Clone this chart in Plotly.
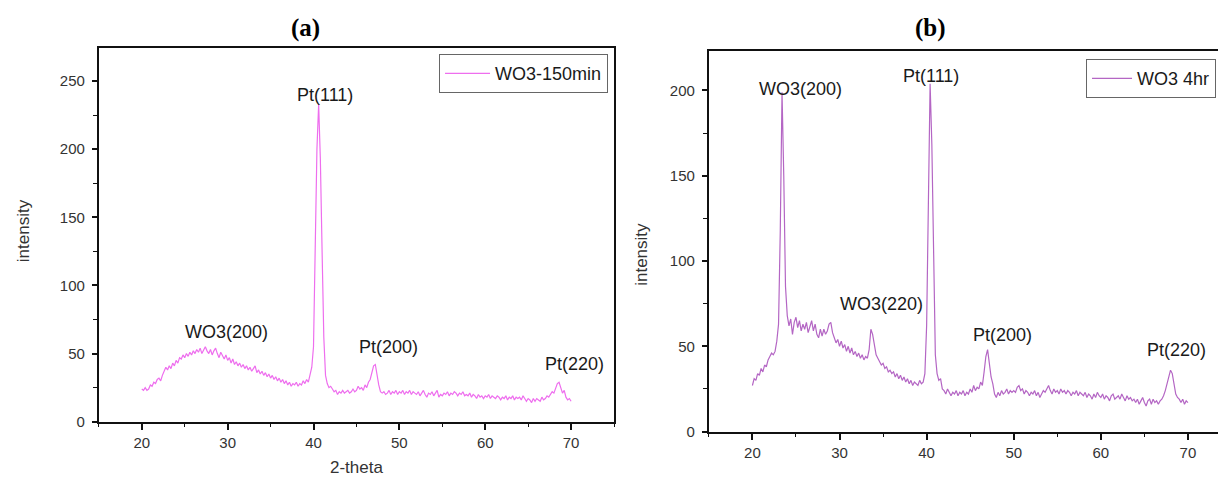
import plotly.graph_objects as go

# ---- data: XRD scans, 2-theta from 20 to 70 in 0.2 deg steps ----
scan_start = 20
scan_step = 0.2

intensity_150min = [
    24, 23, 25, 23, 24, 27, 26, 29, 28, 31,
    32, 30, 34, 37, 40, 38, 41, 39, 43, 41,
    45, 43, 47, 46, 49, 47, 50, 48, 51, 49,
    52, 50, 53, 51, 54, 50, 53, 55, 52, 50,
    53, 49, 52, 54, 50, 47, 51, 48, 46, 49,
    45, 47, 43, 46, 42, 44, 41, 43, 40, 42,
    39, 41, 38, 40, 37, 39, 41, 36, 38, 35,
    37, 34, 36, 33, 35, 32, 34, 31, 33, 30,
    32, 29, 31, 28, 30, 27, 29, 26, 28, 27,
    29, 26, 28, 27, 30, 28, 31, 29, 36, 40,
    55, 115, 200, 233, 192, 125, 62, 34, 28, 25,
    26, 24, 22, 23, 20, 22, 21, 23, 21, 22,
    23, 21, 22, 24, 22, 23, 26, 24, 25, 23,
    27, 25, 29, 31, 36, 41, 42, 33, 27, 22,
    21, 22, 20, 21, 23, 20, 22, 21, 23, 20,
    22, 21, 23, 20, 22, 21, 23, 20, 22, 21,
    20, 22, 19, 21, 23, 20, 18, 21, 20, 22,
    19, 21, 23, 18, 20, 19, 21, 20, 22, 19,
    21, 20, 22, 21, 19, 21, 20, 22, 19, 20,
    19, 21, 18, 20, 19, 17, 20, 18, 19, 17,
    19, 18, 20, 17, 19, 18, 17, 19, 18, 16,
    18, 17, 19, 16, 18, 17, 19, 16, 18, 17,
    18, 16, 19, 17, 15, 17, 16, 14, 17, 15,
    17, 16, 15, 18, 16, 17, 19, 18, 20, 22,
    21, 24, 28, 29, 25, 21, 23, 18, 16, 17,
    15,
]

intensity_4hr = [
    27, 31, 30, 34, 33, 37, 35, 39, 38, 42,
    44, 46, 45, 47, 53, 63, 118, 199, 150, 85,
    68, 62, 66, 57, 64, 67, 61, 65, 59, 63,
    60, 64, 58, 62, 65, 59, 63, 57, 55, 60,
    56, 60, 57, 59, 63, 64, 58, 55, 52, 54,
    50, 53, 49, 51, 47, 50, 46, 49, 45, 47,
    44, 46, 43, 45, 42, 44, 43, 48, 60, 57,
    50, 45, 43, 41, 39, 40, 37, 38, 35, 36,
    34, 35, 32, 34, 31, 33, 30, 32, 29, 31,
    28, 30, 27, 29, 28, 27, 30, 28, 29, 34,
    62, 140, 204, 168, 95, 45, 34, 30, 31, 25,
    24, 22, 25, 23, 21, 23, 22, 24, 21, 23,
    22, 24, 21, 23, 22, 25, 23, 27, 24, 26,
    25, 29, 27, 35, 44, 48, 40, 32, 28, 22,
    20, 23, 21, 24, 22, 23, 25, 22, 24, 23,
    24, 23, 26, 27, 24, 25, 22, 24, 23, 21,
    23, 22, 24, 21, 23, 20, 22, 24, 23, 25,
    27, 24, 22, 25, 23, 24, 22, 25, 23, 24,
    22, 24, 23, 21, 23, 22, 24, 21, 23, 22,
    21, 23, 20, 22, 21, 19, 22, 20, 23, 21,
    20, 22, 19, 21, 20, 18, 21, 22, 19, 20,
    21, 19, 22, 20, 18, 21, 19, 20, 18, 19,
    17, 19, 16, 18, 20, 17, 15, 18, 19, 16,
    19, 17, 18, 16, 18, 19, 21, 24, 28, 33,
    36, 34, 28, 22, 20, 19, 17, 19, 16, 18,
    17,
]

series_names = ["WO3-150min", "WO3 4hr"]
panel_titles = ["(a)", "(b)"]

labels_a = ["WO3(200)", "Pt(111)", "Pt(200)", "Pt(220)"]
labels_a_x = [29.9, 41.3, 48.7, 70.35]
labels_a_y = [66, 240, 54.6, 42.6]

labels_b = ["WO3(200)", "Pt(111)", "WO3(220)", "Pt(200)", "Pt(220)"]
labels_b_x = [25.5, 40.45, 34.8, 48.75, 68.7]
labels_b_y = [201, 208.5, 75, 56.6, 47.6]

x_ticks = [20, 30, 40, 50, 60, 70]

# ---- figure ----
W, H = 1226, 482
SANS = "Liberation Sans, Arial, sans-serif"
SERIF = "Liberation Serif, Times New Roman, serif"

fig = go.Figure()
fig.add_trace(go.Scatter(
    x0=scan_start, dx=scan_step, y=intensity_150min, mode="lines",
    name=series_names[0], line=dict(color="#EE6EEE", width=1.2),
    xaxis="x", yaxis="y", legend="legend"))
fig.add_trace(go.Scatter(
    x0=scan_start, dx=scan_step, y=intensity_4hr, mode="lines",
    name=series_names[1], line=dict(color="#B466C4", width=1.2),
    xaxis="x2", yaxis="y2", legend="legend2"))


def xax(domain, anchor):
    return dict(domain=domain, anchor=anchor, range=[15, 75],
                tickmode="array", tickvals=x_ticks,
                ticks="outside", ticklen=6, tickwidth=1.6, tickcolor="#111",
                showline=True, linecolor="#111", linewidth=2, mirror=True,
                showgrid=False, zeroline=False,
                tickfont=dict(family=SANS, size=15, color="#333"),
                minor=dict(tickmode="array", tickvals=[15, 25, 35, 45, 55, 65, 75],
                           ticks="outside", ticklen=3.5, tickwidth=1.4,
                           tickcolor="#111", showgrid=False))


def yax(domain, anchor, top, vals, minors):
    return dict(domain=domain, anchor=anchor, range=[0, top],
                tickmode="array", tickvals=vals,
                ticks="outside", ticklen=5, tickwidth=1.6, tickcolor="#111",
                ticklabelstandoff=4,
                showline=True, linecolor="#111", linewidth=2, mirror=True,
                showgrid=False, zeroline=False,
                tickfont=dict(family=SANS, size=15, color="#333"),
                minor=dict(tickmode="array", tickvals=minors,
                           ticks="outside", ticklen=4, tickwidth=1.4,
                           tickcolor="#111", showgrid=False))


fig.update_layout(
    width=W, height=H, autosize=False,
    margin=dict(l=0, r=0, t=0, b=0, pad=0),
    paper_bgcolor="white", plot_bgcolor="white",
    xaxis=xax([91 / W, 607 / W], "y"),
    yaxis=yax([1 - 420.7 / H, 1 - 41 / H], "x", 274,
              [0, 50, 100, 150, 200, 250], [25, 75, 125, 175, 225]),
    xaxis2=xax([702 / W, 1225.5 / W], "y2"),
    yaxis2=yax([1 - 430.7 / H, 1 - 44 / H], "x2", 223,
               [0, 50, 100, 150, 200], [25, 75, 125, 175]),
    legend=dict(x=601 / W, y=1 - 47 / H, xanchor="right", yanchor="top",
                bgcolor="white", bordercolor="#666", borderwidth=1,
                font=dict(family=SANS, size=18, color="#1a1a1a"),
                itemwidth=45, tracegroupgap=0),
    legend2=dict(x=1210 / W, y=1 - 52 / H, xanchor="right", yanchor="top",
                 bgcolor="white", bordercolor="#666", borderwidth=1,
                 font=dict(family=SANS, size=18, color="#1a1a1a"),
                 itemwidth=40, tracegroupgap=0),
    showlegend=True,
)

annotations = []
for t, xv, yv in zip(labels_a, labels_a_x, labels_a_y):
    annotations.append(dict(text=t, x=xv, y=yv, xref="x", yref="y", showarrow=False,
                            xanchor="center", yanchor="middle",
                            font=dict(family=SANS, size=18, color="#1a1a1a")))
for t, xv, yv in zip(labels_b, labels_b_x, labels_b_y):
    annotations.append(dict(text=t, x=xv, y=yv, xref="x2", yref="y2", showarrow=False,
                            xanchor="center", yanchor="middle",
                            font=dict(family=SANS, size=18, color="#1a1a1a")))
# panel titles
for t, px in zip(panel_titles, [298, 924]):
    annotations.append(dict(text="<b>" + t + "</b>", x=px / W, y=1 - 20 / H,
                            xref="paper", yref="paper", showarrow=False,
                            xanchor="center", yanchor="middle",
                            font=dict(family=SERIF, size=25, color="black")))
# axis titles
annotations.append(dict(text="intensity", x=15 / W, y=1 - 226 / H, xref="paper", yref="paper",
                        showarrow=False, textangle=-90, xanchor="center", yanchor="middle",
                        font=dict(family=SANS, size=17, color="#333")))
annotations.append(dict(text="intensity", x=635 / W, y=1 - 250 / H, xref="paper", yref="paper",
                        showarrow=False, textangle=-90, xanchor="center", yanchor="middle",
                        font=dict(family=SANS, size=17, color="#333")))
annotations.append(dict(text="2-theta", x=349 / W, y=1 - 467 / H, xref="paper", yref="paper",
                        showarrow=False, xanchor="center", yanchor="middle",
                        font=dict(family=SANS, size=17, color="#333")))
fig.update_layout(annotations=annotations)

fig.write_html("out.html")
